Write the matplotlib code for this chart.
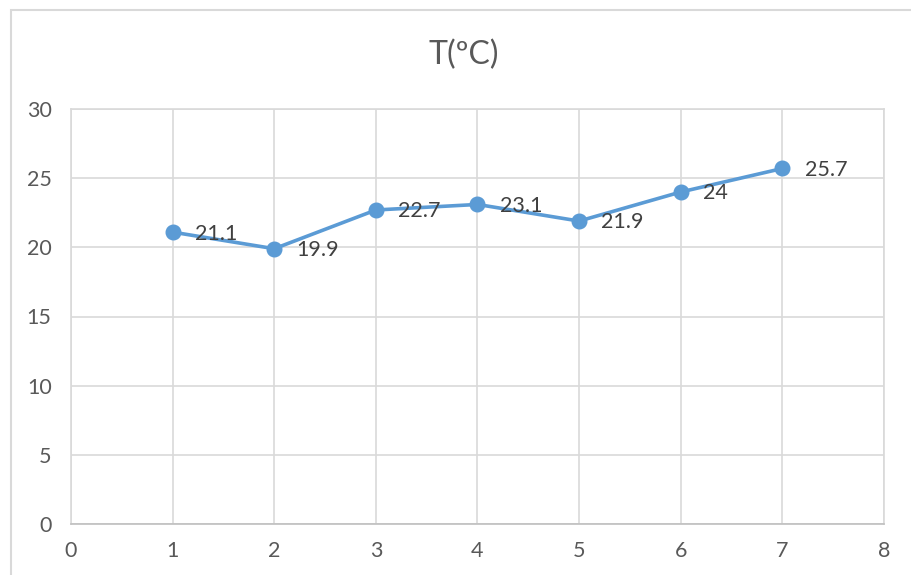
import matplotlib.pyplot as plt
from matplotlib.patches import Rectangle

x_vals = [1, 2, 3, 4, 5, 6, 7]
temps = [21.1, 19.9, 22.7, 23.1, 21.9, 24, 25.7]
labels = ["21.1", "19.9", "22.7", "23.1", "21.9", "24", "25.7"]
title = "T(ºC)"

plt.rcParams['font.family'] = ['Lato', 'DejaVu Sans']

fig = plt.figure(figsize=[9.12, 5.75], dpi=100)
fig.patch.set_facecolor('white')

# chart area border (cropped on right/bottom in the original)
fig.patches.append(Rectangle((11/912, -0.1), 1.2, 1.1 - 10/575, transform=fig.transFigure,
                             fill=False, edgecolor='#D9D9D9', linewidth=1.5))

ax = fig.add_axes([71/912, 1-524/575, (884-71)/912, (524-109)/575])
ax.set_xlim(0, 8)
ax.set_ylim(0, 30)
ax.set_xticks(range(0, 9))
ax.set_yticks(range(0, 31, 5))
ax.grid(True, color='#D9D9D9', linewidth=1.2)
ax.set_axisbelow(True)
for s in ax.spines.values():
    s.set_color('#D9D9D9')
    s.set_linewidth(1.2)
ax.spines['bottom'].set_color('#BFBFBF')
ax.tick_params(length=0, labelsize=15.5, colors='#595959', pad=12)
ax.tick_params(axis='y', pad=14)

ax.plot(x_vals, temps, color='#5B9BD5', linewidth=2.6, marker='o', markersize=10.5,
        markerfacecolor='#5B9BD5', markeredgecolor='#5B9BD5', clip_on=False)

for xv, yv, lb in zip(x_vals, temps, labels):
    ax.annotate(lb, (xv, yv), xytext=(16, -1), textcoords='offset points',
                ha='left', va='center', fontsize=15.5, color='#404040')

fig.text(464/912, 1-55/575, title, ha='center', va='center', fontsize=23, color='#595959')

fig.savefig('out.png', dpi=100)
